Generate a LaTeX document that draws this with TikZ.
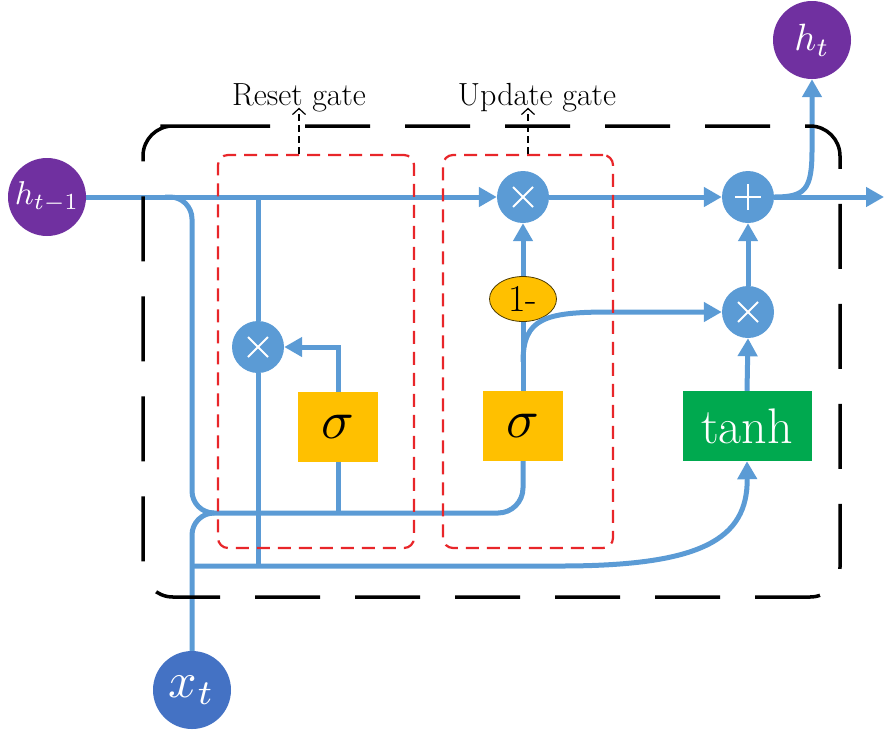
\documentclass[tikz,border=0pt]{standalone}
\usetikzlibrary{arrows.meta,shapes.geometric}
\definecolor{bline}{HTML}{5B9BD5}
\definecolor{hpurple}{HTML}{7030A0}
\definecolor{xblue}{HTML}{4472C4}
\definecolor{sigorange}{HTML}{FFC000}
\definecolor{tgreen}{HTML}{00A94F}
\definecolor{gred}{HTML}{E8262A}
\begin{document}
\begin{tikzpicture}[x=1pt,y=-1pt,
  bl/.style={draw=bline, line width=5pt},
  arr/.style={-{Triangle[length=18pt,width=19pt]}},
  op/.style={circle, fill=bline, minimum size=52pt, inner sep=0pt},
  mulop/.style={op, path picture={\draw[white,line width=1.8pt]
     ([shift={(-10pt,-10pt)}]path picture bounding box.center) -- ([shift={(10pt,10pt)}]path picture bounding box.center)
     ([shift={(-10pt,10pt)}]path picture bounding box.center) -- ([shift={(10pt,-10pt)}]path picture bounding box.center);}},
  addop/.style={op, path picture={\draw[white,line width=1.8pt]
     ([shift={(-13pt,0pt)}]path picture bounding box.center) -- ([shift={(13pt,0pt)}]path picture bounding box.center)
     ([shift={(0pt,-13pt)}]path picture bounding box.center) -- ([shift={(0pt,13pt)}]path picture bounding box.center);}},
  hcirc/.style={circle, fill=hpurple, minimum size=78pt, inner sep=0pt, text=white},
  xcirc/.style={circle, fill=xblue, minimum size=78pt, inner sep=0pt, text=white},
  sigbox/.style={rectangle, fill=sigorange, minimum width=80pt, minimum height=70pt, inner sep=0pt},
  tanhbox/.style={rectangle, fill=tgreen, minimum width=129pt, minimum height=70pt, inner sep=0pt,
     text=white, font=\fontsize{50}{50}\selectfont},
  ombox/.style={ellipse, fill=sigorange, draw=black!70!sigorange, line width=0.8pt,
     minimum width=67pt, minimum height=45pt, inner sep=0pt, font=\fontsize{38}{38}\selectfont},
  gatetxt/.style={inner sep=0pt, font=\fontsize{32}{36}\selectfont},
  gatebox/.style={draw=gred, line width=2.2pt, dash pattern=on 13pt off 8pt, rounded corners=10pt},
  gatearr/.style={draw=black, line width=1.2pt, dash pattern=on 7pt off 4pt, -{Straight Barb[length=6pt,width=13pt]}},
  bigbox/.style={draw=black, line width=3.5pt, dash pattern=on 65pt off 35pt, rounded corners=30pt}
]
\useasboundingbox (0,0) rectangle (885,729);

% nodes
\node[hcirc] (hprev) at (47,197) {\scalebox{3.3}{$h_{t-1}$}};
\node[hcirc] (ht) at (812,40) {\scalebox{3.8}{$h_{t}$}};
\node[xcirc] (xt) at (192,690) {\scalebox{5}{$x_{t}$}};
\node[mulop] (rmul) at (258,347) {};
\node[mulop] (umul) at (523,197) {};
\node[addop] (plus) at (748,197) {};
\node[mulop] (tmul) at (748,312) {};
\node[sigbox] (rsig) at (338,427) {\scalebox{5.4}{$\sigma$}};
\node[sigbox] (usig) at (523,426) {\scalebox{5.4}{$\sigma$}};
\node[ombox] (om) at (523,299) {1-};
\node[tanhbox] (tanh) at (747,426) {tanh};
\node[gatetxt, anchor=base] (rtext) at (299,105) {Reset gate};
\node[gatetxt, anchor=base] (utext) at (537,105) {Update gate};

% coordinates
\coordinate (out) at (884,197);
\coordinate (br1) at (165,197);
\coordinate (rtop) at (258,197);
\coordinate (rbot) at (258,566);
\coordinate (jn) at (214,513);
\coordinate (rj) at (338,513);
\coordinate (bj) at (192,566);
\coordinate (ub) at (523,362);

% main line
\draw[bl,arr] (hprev.east) -- (umul.west);
\draw[bl,arr] (umul.east) -- (plus.west);
\draw[bl,arr] (plus.east) -- (out);
\draw[bl,arr] (plus.east) .. controls (805,197) and (812,190) .. (812,150) -- (ht.south);

% reset path
\draw[bl] (rtop) -- (rmul.north);
\draw[bl] (rmul.south) -- (rbot);
\draw[bl,arr] (rsig.north) |- (rmul.east);
\draw[bl] (rsig.south) -- (rj);

% branches
\draw[bl, rounded corners=22pt] (br1) -- (192,197) -- (192,513) -- (jn);
\draw[bl, rounded corners=22pt] (xt.north) -- (192,513) -- (jn);
\draw[bl, rounded corners=25pt] (jn) -| (usig.south);
\draw[bl,arr] (bj) -- (560,566) .. controls (700,566) and (748,540) .. (tanh.south);

% update path
\draw[bl] (usig.north) -- (om.south);
\draw[bl,arr] (om.north) -- (umul.south);
\draw[bl,arr] (ub) .. controls (523,318) and (545,312) .. (610,312) -- (tmul.west);
\draw[bl,arr] (tanh.north) -- (tmul.south);
\draw[bl,arr] (tmul.north) -- (plus.south);

% gate boxes
\node[gatebox, minimum width=196pt, minimum height=393pt, inner sep=0pt] (rbox) at (316,351.5) {};
\node[gatebox, minimum width=170pt, minimum height=393pt, inner sep=0pt] (ubox) at (528,351.5) {};
\draw[gatearr] (rtext.south |- rbox.north) -- ([yshift=4pt]rtext.south);
\draw[gatearr] ([xshift=-9pt]utext.south |- ubox.north) -- ([xshift=-9pt,yshift=4pt]utext.south);

% big dashed box
\draw[bigbox] (175,126) -- (840,126) -- (840,597) -- (143,597) -- (143,126) -- cycle;
\end{tikzpicture}
\end{document}
